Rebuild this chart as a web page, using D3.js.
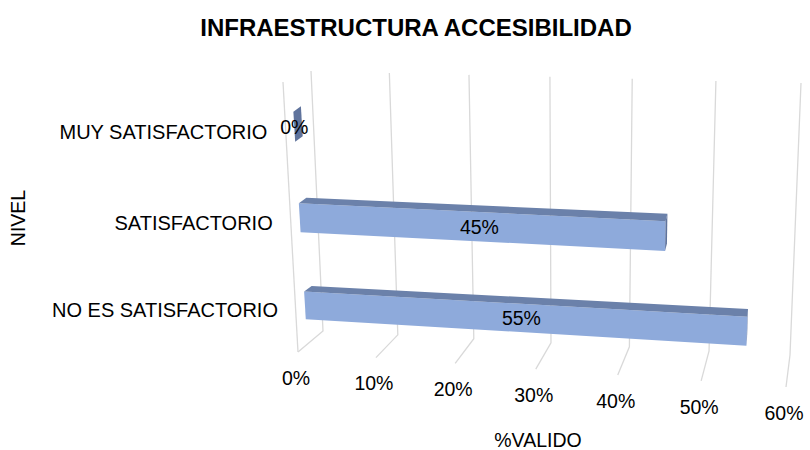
<!DOCTYPE html>
<html>
<head>
<meta charset="utf-8">
<script src="https://cdn.jsdelivr.net/npm/d3@7"></script>
<style>
  body { margin: 0; background: #fff; }
  svg text { font-family: "Liberation Sans", Arial, sans-serif; fill: #000; }
</style>
</head>
<body>
<svg id="chart" width="810" height="450"></svg>
<script>
(function () {
    // Données du graphique
    var categories = ["NO ES SATISFACTORIO", "SATISFACTORIO", "MUY SATISFACTORIO"];
    var valeurs = [0.55, 0.45, 0];
    var graduations = [0, 0.1, 0.2, 0.3, 0.4, 0.5, 0.6];
    var titre = "INFRAESTRUCTURA ACCESIBILIDAD";
    var titreAxeX = "%VALIDO";
    var titreAxeY = "NIVEL";

    var svg = d3.select("#chart");
    var format = d3.format(".0%");

    // Projection (u,v) -> écran par homographie d'un quadrilatère
    function homographie(q) {
        var x0 = q[0][0], y0 = q[0][1], x1 = q[1][0], y1 = q[1][1],
            x2 = q[2][0], y2 = q[2][1], x3 = q[3][0], y3 = q[3][1];
        var dx1 = x1 - x2, dx2 = x3 - x2, dx3 = x0 - x1 + x2 - x3;
        var dy1 = y1 - y2, dy2 = y3 - y2, dy3 = y0 - y1 + y2 - y3;
        var den = dx1 * dy2 - dx2 * dy1;
        var g = (dx3 * dy2 - dx2 * dy3) / den, h = (dx1 * dy3 - dx3 * dy1) / den;
        var a = x1 - x0 + g * x1, b = x3 - x0 + h * x3, c = x0;
        var d = y1 - y0 + g * y1, e = y3 - y0 + h * y3, f = y0;
        return function (u, v) {
            var w = g * u + h * v + 1;
            return [(a * u + b * v + c) / w, (d * u + e * v + f) / w];
        };
    }

    // plans : mur du fond, plan avant (sol), plan des barres
    var mur = homographie([[323, 331], [790, 355], [801, 83], [311, 71]]);
    var avant = homographie([[298, 352], [786, 387], [797, 104], [283, 82]]);
    var plan = homographie([[307.5, 348], [787, 378], [799, 99], [291.5, 80]]);

    // échelles
    var echelleX = d3.scaleLinear().domain([0, 0.6]).range([0, 1]);
    var echelleY = d3.scaleBand().domain(categories).range([0, 1])
            .paddingInner(0.676).paddingOuter(0.338);
    var profX = d3.scaleLinear().domain([0, 1]).range([7.5, 0]);
    var profY = d3.scaleLinear().domain([0, 1]).range([-5.5, -8]);

    var ligne = d3.line();
    var grille = svg.append("g").attr("fill", "none")
            .attr("stroke", "#d9d9d9").attr("stroke-width", 1.3);

    // quadrillage du mur et du sol
    graduations.forEach(function (t) {
        var u = echelleX(t);
        grille.append("path").attr("d", ligne([mur(u, 1), mur(u, 0), avant(u, 0)]));
    });
    // arête avant gauche
    grille.append("path").attr("d", ligne([avant(0, 0), avant(0, 1)]));

    // barres
    var barres = svg.append("g");
    categories.forEach(function (cat, i) {
        var u1 = echelleX(valeurs[i]);
        var vb = echelleY(cat), vt = vb + echelleY.bandwidth();
        var p0 = plan(0, vb), p1 = plan(u1, vb), p2 = plan(u1, vt), p3 = plan(0, vt);
        var dep = function (p, u) { return [p[0] + profX(u), p[1] + profY(u)]; };
        var g = barres.append("g");
        // face avant
        g.append("path").attr("d", ligne([p0, p1, p2, p3]) + "Z").attr("fill", "#8eaadb");
        // face supérieure
        g.append("path").attr("d", ligne([p3, p2, dep(p2, u1), dep(p3, 0)]) + "Z").attr("fill", "#6b81aa");
        // face d'extrémité
        g.append("path").attr("d", ligne([p1, p2, dep(p2, u1), dep(p1, u1)]) + "Z").attr("fill", "#5f739c");
        // étiquette de valeur
        var c = plan(u1 / 2, (vb + vt) / 2);
        barres.append("text").attr("x", c[0]).attr("y", c[1]).attr("dy", "0.35em")
                .attr("text-anchor", "middle").attr("font-size", 19.5).text(format(valeurs[i]));
        // étiquette de catégorie
        var l = plan(0, (vb + vt) / 2);
        svg.append("text").attr("x", l[0] - 27).attr("y", l[1] + 5).attr("dy", "0.35em")
                .attr("text-anchor", "end").attr("font-size", 20).text(cat);
    });

    // graduations de l'axe des valeurs
    graduations.forEach(function (t) {
        var p = avant(echelleX(t), 0);
        svg.append("text").attr("x", p[0] - 2).attr("y", p[1] + 26).attr("dy", "0.35em")
                .attr("text-anchor", "middle").attr("font-size", 19.5).text(format(t));
    });

    // titres
    svg.append("text").attr("x", 416).attr("y", 28).attr("dy", "0.35em")
            .attr("text-anchor", "middle").attr("font-size", 24).attr("font-weight", "bold").text(titre);
    svg.append("text").attr("x", 538).attr("y", 440).attr("dy", "0.35em")
            .attr("text-anchor", "middle").attr("font-size", 19.5).text(titreAxeX);
    svg.append("text").attr("transform", "translate(18,218) rotate(-90)").attr("dy", "0.35em")
            .attr("text-anchor", "middle").attr("font-size", 19.5).text(titreAxeY);
})();
</script>
</body>
</html>
